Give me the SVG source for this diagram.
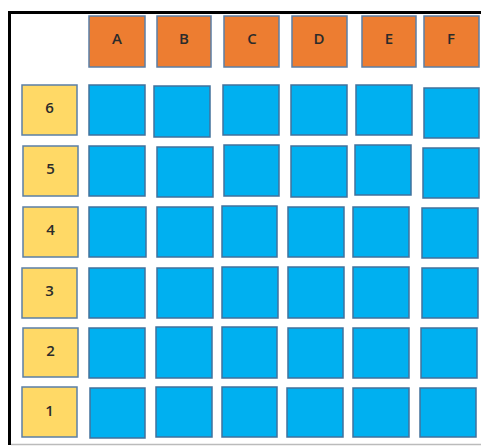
<svg xmlns="http://www.w3.org/2000/svg" width="481" height="448" viewBox="0 0 481 448">
<style>
.hdr{fill:#ED7D31;stroke:#5B7FA6;stroke-width:1.5}
.lbl{fill:#FFD966;stroke:#5B7FA6;stroke-width:1.5}
.cell{fill:#00B0F0;stroke:#41719C;stroke-width:1.5}
text{font-family:"Open Sans","Liberation Sans",sans-serif;font-size:15px;font-weight:600;fill:#2b2b2b;text-anchor:middle}
</style>
<rect width="481" height="448" fill="#fff"/>
<g id="frame">
<line x1="9.5" y1="12.5" x2="481" y2="12.5" stroke="#000" stroke-width="3"/>
<line x1="9.5" y1="11" x2="9.5" y2="445" stroke="#000" stroke-width="3"/>
<line x1="11" y1="444.5" x2="481" y2="444.5" stroke="#BBB" stroke-width="1.5"/>
</g>
<g id="headers">
<g id="colA"><rect class="hdr" x="89" y="16" width="56" height="51"/><text x="117" y="44">A</text></g>
<g id="colB"><rect class="hdr" x="157" y="16" width="54" height="51"/><text x="184" y="44">B</text></g>
<g id="colC"><rect class="hdr" x="224" y="16" width="55" height="51"/><text x="252" y="44">C</text></g>
<g id="colD"><rect class="hdr" x="292" y="16" width="55" height="51"/><text x="319" y="44">D</text></g>
<g id="colE"><rect class="hdr" x="362" y="16" width="54" height="51"/><text x="389" y="44">E</text></g>
<g id="colF"><rect class="hdr" x="424" y="16" width="55" height="51"/><text x="451" y="44">F</text></g>
</g>
<g id="rows">
<g id="row6"><rect class="lbl" x="22" y="85" width="55" height="50"/><text x="49.5" y="113">6</text></g>
<g id="row5"><rect class="lbl" x="23" y="146" width="55" height="50"/><text x="50.5" y="174">5</text></g>
<g id="row4"><rect class="lbl" x="23" y="207" width="55" height="50"/><text x="50.5" y="235">4</text></g>
<g id="row3"><rect class="lbl" x="22" y="268" width="55" height="50"/><text x="49.5" y="296">3</text></g>
<g id="row2"><rect class="lbl" x="23" y="328" width="55" height="49"/><text x="50.5" y="356">2</text></g>
<g id="row1"><rect class="lbl" x="22" y="387" width="55" height="50"/><text x="49.5" y="416">1</text></g>
</g>
<g id="cells">
<rect class="cell" x="89" y="85" width="56" height="50"/>
<rect class="cell" x="154" y="86" width="56" height="51"/>
<rect class="cell" x="223" y="85" width="56" height="50"/>
<rect class="cell" x="291" y="85" width="56" height="50"/>
<rect class="cell" x="356" y="85" width="56" height="50"/>
<rect class="cell" x="424" y="88" width="55" height="50"/>

<rect class="cell" x="89" y="146" width="56" height="50"/>
<rect class="cell" x="157" y="147" width="56" height="50"/>
<rect class="cell" x="224" y="145" width="55" height="51"/>
<rect class="cell" x="291" y="146" width="56" height="51"/>
<rect class="cell" x="355" y="145" width="56" height="50"/>
<rect class="cell" x="423" y="148" width="56" height="50"/>

<rect class="cell" x="89" y="207" width="57" height="50"/>
<rect class="cell" x="157" y="207" width="56" height="50"/>
<rect class="cell" x="222" y="206" width="55" height="51"/>
<rect class="cell" x="288" y="207" width="56" height="50"/>
<rect class="cell" x="353" y="207" width="56" height="50"/>
<rect class="cell" x="422" y="208" width="56" height="50"/>

<rect class="cell" x="89" y="268" width="56" height="50"/>
<rect class="cell" x="157" y="268" width="56" height="50"/>
<rect class="cell" x="222" y="267" width="56" height="51"/>
<rect class="cell" x="288" y="267" width="56" height="51"/>
<rect class="cell" x="353" y="267" width="56" height="51"/>
<rect class="cell" x="422" y="268" width="56" height="50"/>

<rect class="cell" x="89" y="328" width="56" height="50"/>
<rect class="cell" x="156" y="327" width="56" height="51"/>
<rect class="cell" x="222" y="327" width="55" height="51"/>
<rect class="cell" x="288" y="328" width="55" height="50"/>
<rect class="cell" x="353" y="328" width="56" height="50"/>
<rect class="cell" x="421" y="328" width="56" height="50"/>

<rect class="cell" x="90" y="388" width="55" height="50"/>
<rect class="cell" x="156" y="387" width="56" height="50"/>
<rect class="cell" x="222" y="387" width="55" height="50"/>
<rect class="cell" x="287" y="388" width="56" height="49"/>
<rect class="cell" x="353" y="388" width="56" height="49"/>
<rect class="cell" x="420" y="388" width="56" height="49"/>
</g>
</svg>
